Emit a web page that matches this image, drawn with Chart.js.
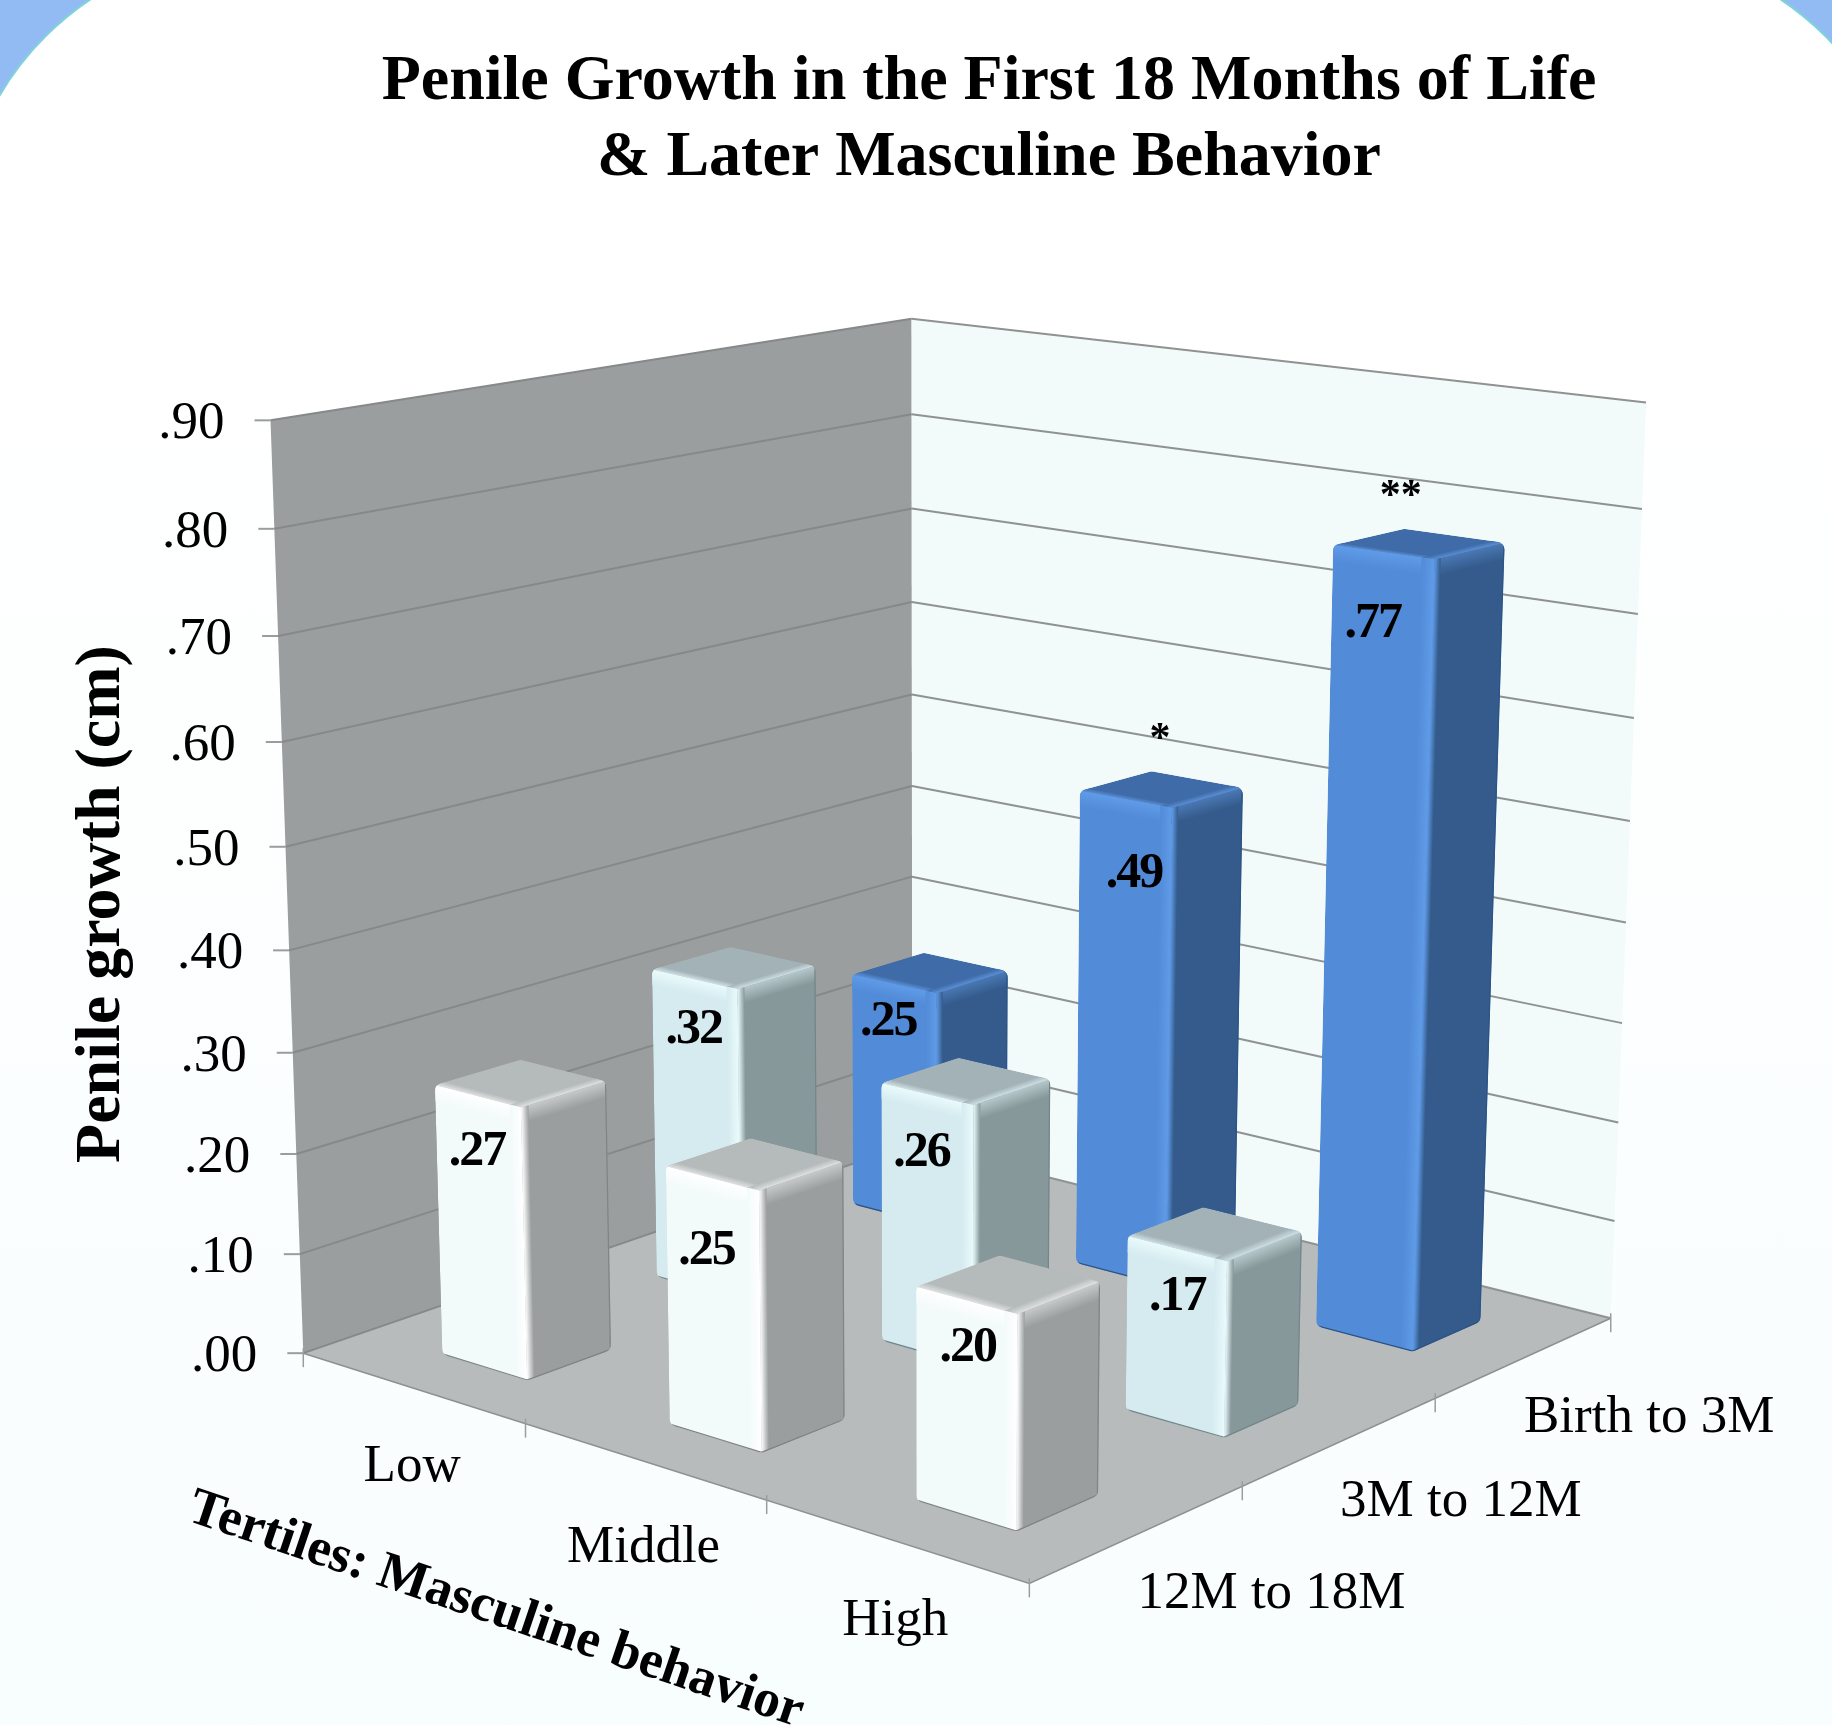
<!DOCTYPE html>
<html>
<head>
<meta charset="utf-8">
<title>Penile Growth</title>
<script src="https://cdn.jsdelivr.net/npm/chart.js@4/dist/chart.umd.js"></script>
<style>
  html, body { margin: 0; padding: 0; width: 1832px; height: 1725px; overflow: hidden; background: #93bbf3; }
  #panel {
    position: absolute; left: -42px; top: -51px; width: 1955px; height: 2100px;
    border: 2px solid #7fd4d8; border-radius: 296px; box-sizing: border-box;
    background: linear-gradient(#ffffff 0%, #ffffff 18%, #f8fdfe 85%);
  }
  canvas { position: absolute; left: 0; top: 0; }
</style>
</head>
<body>
<div id="panel"></div>
<canvas id="chart" width="1832" height="1725"></canvas>
<script>
// data
const tertiles = ["Low", "Middle", "High"];
const periods = ["Birth to 3M", "3M to 12M", "12M to 18M"];
const birthTo3M = [0.25, 0.49, 0.77];
const months3To12 = [0.32, 0.26, 0.17];
const months12To18 = [0.27, 0.25, 0.2];
const birthStars = ["", "*", "**"];

const SERIF = '"Liberation Serif", "Times New Roman", serif';
const BAR_WIDTH = 0.382 / 3; // share of the floor, per axis
const TERTILE_NUDGE = [-3, 5, -2];

const blueBar = {
  front: "#528bd8", rim: "#5f9be8", side: "#345b8b", sideRim: "#4a78b4", top: "#3f6ca8", topRim: "#5a90d8", edge: "#2c5486",
  dx: 2, dy: 0,
  nudge: [[-4, -14], [10, 23], [-9, 20]], starNudge: [[0, 0], [12, 19], [-5, 23]],
};
const tealBar = {
  front: "#d5ebef", rim: "#eafafc", side: "#87989a", sideRim: "#b4c6c9", top: "#a2b2b7", topRim: "#cfe0e4", edge: "#73868a",
  dx: 2, dy: 3,
  nudge: [[1, -1], [-4, 7], [2, -4]],
};
const whiteBar = {
  front: "#f3fafa", rim: "#ffffff", side: "#9a9e9e", sideRim: "#c6c9c9", top: "#b5baba", topRim: "#dfe2e2", edge: "#7f8484",
  dx: 2, dy: 5,
  nudge: [[1, 4], [-4, 21], [3, -4]],
};

// camera calibration: [x, z, y] in axis fractions -> page pixel
const cameraAnchors = [
  [0, 1, 0, 304, 1355], [1, 1, 0, 1030, 1583], [1, 0, 0, 1610, 1319], [0, 0, 0, 912, 1143],
  [0, 1, 1, 270, 421], [0, 0, 1, 912, 319], [1, 0, 1, 1645, 402],
  [0, 0, 8 / 9, 912, 414], [1, 0, 8 / 9, 1642, 509], [1, 0, 6 / 9, 1635, 718], [0, 1, 1 / 9, 299, 1252],
];

function solveCamera(anchors) {
  var rows = [];
  anchors.forEach(function (a) {
    var x = a[0], z = a[1], y = a[2], u = a[3], v = a[4];
    rows.push([x, y, z, 1, 0, 0, 0, 0, -u * x, -u * y, -u * z, u]);
    rows.push([0, 0, 0, 0, x, y, z, 1, -v * x, -v * y, -v * z, v]);
  });
  var n = 11;
  var m = [];
  for (var i = 0; i < n; i++) {
    m[i] = [];
    for (var j = 0; j <= n; j++) {
      var s = 0;
      rows.forEach(function (r) { s += r[i] * r[j]; });
      m[i][j] = s;
    }
  }
  for (var c = 0; c < n; c++) {
    var best = c;
    for (var r = c + 1; r < n; r++) if (Math.abs(m[r][c]) > Math.abs(m[best][c])) best = r;
    var t = m[c]; m[c] = m[best]; m[best] = t;
    for (var k = 0; k < n; k++) {
      if (k === c) continue;
      var f = m[k][c] / m[c][c];
      for (var l = c; l <= n; l++) m[k][l] -= f * m[c][l];
    }
  }
  return m.map(function (row, i) { return row[n] / row[i]; });
}

const cam = solveCamera(cameraAnchors);

// x, z, y are fractions along each axis
function project(x, z, y) {
  var w = cam[8] * x + cam[9] * y + cam[10] * z + 1;
  return {
    x: (cam[0] * x + cam[1] * y + cam[2] * z + cam[3]) / w,
    y: (cam[4] * x + cam[5] * y + cam[6] * z + cam[7]) / w,
  };
}

function fraction(scale, value) {
  return scale.getDecimalForPixel(scale.getPixelForValue(value));
}

function poly(ctx, pts) {
  ctx.beginPath();
  pts.forEach(function (p, i) {
    if (i === 0) ctx.moveTo(p.x, p.y);
    else ctx.lineTo(p.x, p.y);
  });
  ctx.closePath();
}

function fillQuad(ctx, pts, fill) {
  poly(ctx, pts);
  ctx.fillStyle = fill;
  ctx.fill();
}

// strip between edge a0-a1 (colour c0) and edge b0-b1 (colour c1), shaded across the strip
function bevel(ctx, a0, a1, b0, b1, c0, c1) {
  var dx = a1.x - a0.x, dy = a1.y - a0.y;
  var len = Math.hypot(dx, dy);
  var nx = -dy / len, ny = dx / len;
  var d = (b0.x - a0.x) * nx + (b0.y - a0.y) * ny;
  var g = ctx.createLinearGradient(a0.x, a0.y, a0.x + nx * d, a0.y + ny * d);
  g.addColorStop(0, c0);
  g.addColorStop(1, c1);
  fillQuad(ctx, [a0, a1, b1, b0], g);
}

function roundedPath(ctx, pts, r) {
  var n = pts.length;
  var start = { x: (pts[n - 1].x + pts[0].x) / 2, y: (pts[n - 1].y + pts[0].y) / 2 };
  ctx.beginPath();
  ctx.moveTo(start.x, start.y);
  for (var i = 0; i < n; i++) {
    var a = pts[i], b = pts[(i + 1) % n];
    ctx.arcTo(a.x, a.y, b.x, b.y, r);
  }
  ctx.closePath();
}

function text(ctx, str, x, y, font, align, spacing) {
  ctx.font = font;
  ctx.letterSpacing = spacing || "0px";
  ctx.fillStyle = "#000";
  ctx.textAlign = align || "center";
  ctx.textBaseline = "middle";
  ctx.fillText(str, x, y);
  ctx.letterSpacing = "0px";
}

function drawBar(ctx, x, z, v, look) {
  var half = BAR_WIDTH / 2;
  var x0 = x - half, x1 = x + half, zb = z - half, zf = z + half;
  var b = 0.016; // bevel along the floor
  var bv = 0.018; // bevel up the bar

  function pt(px, pz, py) {
    var p = project(px, pz, py);
    return { x: p.x + look.dx, y: p.y + look.dy };
  }

  var baseL = pt(x0, zf, 0), topL = pt(x0, zf, v);
  var baseF = pt(x1, zf, 0), topF = pt(x1, zf, v);
  var baseR = pt(x1, zb, 0), topR = pt(x1, zb, v);
  var topB = pt(x0, zb, v);

  ctx.save();
  roundedPath(ctx, [baseL, topL, topB, topR, baseR, baseF], 8);
  ctx.clip();

  fillQuad(ctx, [baseL, topL, topF, baseF], look.front);
  fillQuad(ctx, [baseF, topF, topR, baseR], look.side);
  fillQuad(ctx, [topL, topB, topR, topF], look.top);

  // top face rims
  bevel(ctx, topL, topF, pt(x0, zf - b, v), pt(x1, zf - b, v), look.topRim, look.top);
  bevel(ctx, topF, topR, pt(x1 - b, zf, v), pt(x1 - b, zb, v), look.topRim, look.top);
  // front face rims
  bevel(ctx, topL, topF, pt(x0, zf, v - bv), pt(x1, zf, v - bv), look.rim, look.front);
  bevel(ctx, topF, baseF, pt(x1 - b, zf, v), pt(x1 - b, zf, 0), look.rim, look.front);
  // side face rims
  bevel(ctx, topF, topR, pt(x1, zf, v - bv), pt(x1, zb, v - bv), look.sideRim, look.side);
  bevel(ctx, topF, baseF, pt(x1, zf - b * 0.7, v), pt(x1, zf - b * 0.7, 0), look.rim, look.side);

  // dark line along the foot and back of the bar
  ctx.beginPath();
  ctx.moveTo(topR.x, topR.y);
  ctx.lineTo(baseR.x, baseR.y);
  ctx.lineTo(baseF.x, baseF.y);
  ctx.lineTo(baseL.x, baseL.y);
  ctx.strokeStyle = look.edge;
  ctx.lineWidth = 2.5;
  ctx.stroke();
  ctx.restore();

  return { x: (topL.x + topF.x) / 2, y: (topL.y + topF.y) / 2 };
}

class Bar3dController extends Chart.BarController {
  draw() {
    var ctx = this.chart.ctx;
    var meta = this._cachedMeta;
    var dataset = this.getDataset();
    var look = dataset.look;
    var xScale = meta.xScale, yScale = meta.yScale;
    var zFrac = fraction(this.chart.scales.z, this.index);

    meta.data.forEach(function (el, i) {
      var yFrac = yScale.getDecimalForPixel(el.y);
      var spot = drawBar(ctx, fraction(xScale, i), zFrac, yFrac, look);
      var label = dataset.data[i].toFixed(2).replace(/^0/, "");
      text(ctx, label, spot.x - 2 + look.nudge[i][0], spot.y + 52 + look.nudge[i][1], "bold 50px " + SERIF, "center", "-2px");
      if (dataset.stars && dataset.stars[i]) {
        text(ctx, dataset.stars[i], spot.x + 22 + look.starNudge[i][0], spot.y - 78 + look.starNudge[i][1], "bold 42px " + SERIF);
      }
    });
  }
}
Bar3dController.id = "bar3d";
Bar3dController.defaults = Chart.BarController.defaults;
Chart.register(Bar3dController);

const roomPlugin = {
  id: "room",
  beforeDatasetsDraw: function (chart) {
    var ctx = chart.ctx;
    var xs = chart.scales.x, ys = chart.scales.y, zs = chart.scales.z;

    fillQuad(ctx, [project(0, 1, 0), project(0, 1, 1), project(0, 0, 1), project(0, 0, 0)], "#9b9e9f");
    fillQuad(ctx, [project(0, 0, 0), project(0, 0, 1), project(1, 0, 1), project(1, 0, 0)], "#f2fafa");
    fillQuad(ctx, [project(0, 1, 0), project(0, 0, 0), project(1, 0, 0), project(1, 1, 0)], "#b7bbbc");

    // value gridlines and ticks
    ys.ticks.forEach(function (t) {
      var f = fraction(ys, t.value);
      var a = project(0, 1, f), b = project(0, 0, f), c = project(1, 0, f);
      ctx.lineWidth = 2;
      ctx.strokeStyle = "#868989";
      ctx.beginPath();
      ctx.moveTo(a.x, a.y);
      ctx.lineTo(b.x, b.y);
      ctx.stroke();
      ctx.strokeStyle = "#909292";
      ctx.beginPath();
      ctx.moveTo(b.x, b.y);
      ctx.lineTo(c.x, c.y);
      ctx.stroke();
      ctx.strokeStyle = "#9a9d9d";
      ctx.beginPath();
      ctx.moveTo(a.x, a.y);
      ctx.lineTo(a.x - 16, a.y);
      ctx.stroke();
      text(ctx, t.label, a.x - 46, a.y + 4, "53px " + SERIF, "right");
    });

    // floor edge
    var l = project(0, 1, 0), f = project(1, 1, 0), r = project(1, 0, 0);
    ctx.strokeStyle = "#8e9191";
    ctx.lineWidth = 1.5;
    ctx.beginPath();
    ctx.moveTo(l.x, l.y);
    ctx.lineTo(f.x, f.y);
    ctx.lineTo(r.x, r.y);
    ctx.stroke();

    ctx.strokeStyle = "#9a9d9d";
    ctx.lineWidth = 1.5;
    tertiles.forEach(function (name, i) {
      var mid = project(fraction(xs, i), 1, 0);
      text(ctx, name, mid.x, mid.y + 82 + TERTILE_NUDGE[i], "53px " + SERIF);
    });
    for (var i = 0; i <= tertiles.length; i++) {
      var p = project(fraction(xs, i - 0.5), 1, 0);
      ctx.beginPath();
      ctx.moveTo(p.x, p.y - 5);
      ctx.lineTo(p.x, p.y + 14);
      ctx.stroke();
    }
    periods.forEach(function (name, j) {
      var mid = project(1, fraction(zs, j), 0);
      text(ctx, name, mid.x - 1, mid.y + 61, "53px " + SERIF, "left");
    });
    for (var j = 0; j < periods.length; j++) {
      var q = project(1, fraction(zs, j - 0.5), 0);
      ctx.beginPath();
      ctx.moveTo(q.x, q.y - 5);
      ctx.lineTo(q.x, q.y + 14);
      ctx.stroke();
    }
  },
  afterDatasetsDraw: function (chart) {
    var ctx = chart.ctx;
    ctx.save();
    ctx.translate(102, 904);
    ctx.rotate(-Math.PI / 2);
    text(ctx, "Penile growth (cm)", 0, 0, "bold 64px " + SERIF);
    ctx.restore();

    ctx.save();
    ctx.translate(190, 1507);
    ctx.rotate((18.7 * Math.PI) / 180);
    text(ctx, "Tertiles: Masculine behavior", 0, 0, "bold 53px " + SERIF, "left");
    ctx.restore();
  },
};

new Chart(document.getElementById("chart"), {
  type: "bar3d",
  data: {
    labels: tertiles,
    datasets: [
      { label: periods[0], data: birthTo3M, look: blueBar, stars: birthStars, order: 3 },
      { label: periods[1], data: months3To12, look: tealBar, order: 2 },
      { label: periods[2], data: months12To18, look: whiteBar, order: 1 },
    ],
  },
  options: {
    responsive: false,
    animation: false,
    layout: { padding: { left: 146 } },
    scales: {
      x: { type: "category", offset: true, display: false },
      z: { type: "category", axis: "x", labels: periods, offset: true, display: false },
      y: {
        type: "linear",
        min: 0,
        max: 0.9,
        display: false,
        ticks: {
          stepSize: 0.1,
          autoSkip: false,
          callback: function (v) {
            return v.toFixed(2).replace(/^0/, "");
          },
        },
      },
    },
    plugins: {
      legend: { display: false },
      tooltip: { enabled: false },
      title: {
        display: true,
        fullSize: false,
        text: ["Penile Growth in the First 18 Months of Life", "& Later Masculine Behavior"],
        color: "#000",
        font: { family: SERIF, weight: "bold", size: 64, lineHeight: 76 / 64 },
        padding: { top: 44, bottom: 0 },
      },
    },
  },
  plugins: [roomPlugin],
});
</script>
</body>
</html>
